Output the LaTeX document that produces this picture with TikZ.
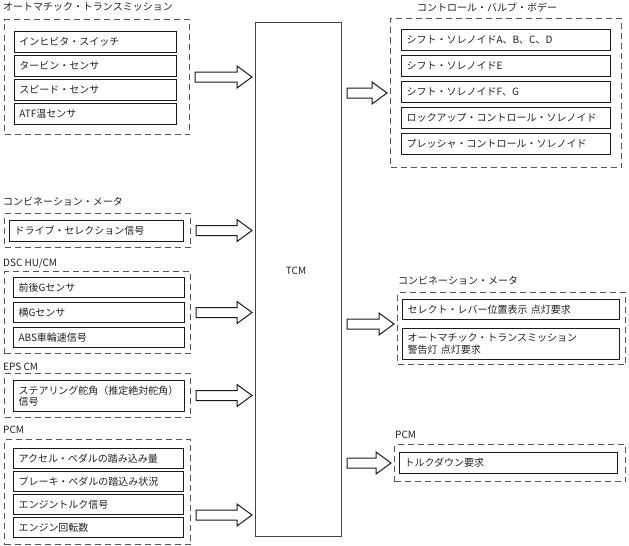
\documentclass[tikz,border=0pt]{standalone}
\usepackage{fontspec}
\setmainfont{Noto Sans CJK JP}
\usepackage{xcolor}
\usepackage{tikz}
\usetikzlibrary{calc}
\definecolor{bg}{HTML}{FFFFFF}
\definecolor{text}{HTML}{222222}
\definecolor{edge}{HTML}{1A1A1A}
\definecolor{dashc}{HTML}{555555}
\definecolor{tcmc}{HTML}{444444}
\newcommand{\fs}{\fontsize{10pt}{11.5pt}\selectfont}
\tikzset{
  grp/.style={draw=dashc, line width=1pt, dash pattern=on 6pt off 4pt, anchor=north west, inner sep=0pt},
  item/.style={draw=edge, line width=1pt, anchor=north west, inner xsep=5pt, inner ysep=0pt,
    align=left, text=text, font=\fs, text width=#1, minimum height=21pt},
  ttl/.style={anchor=west, inner sep=0pt, text=text, font=\fs},
  ctrl/.style={draw=tcmc, line width=1.2pt, anchor=north west, inner sep=0pt},
  fat/.style={draw=edge, fill=bg, line width=1pt, line join=miter}
}
% hollow block arrow: #1 source side, #2 target side (same height)
\newcommand{\fatarrow}[2]{%
  \path (#1) ++(5,0) coordinate (fa-s) (#2) ++(-3,0) coordinate (fa-e);
  \draw[fat] ($(fa-s)+(0,-5)$) -- ($(fa-e)+(-15,-5)$) -- ($(fa-e)+(-15,-11)$) -- (fa-e)
    -- ($(fa-e)+(-15,11)$) -- ($(fa-e)+(-15,5)$) -- ($(fa-s)+(0,5)$) -- cycle;}

\begin{document}
\begin{tikzpicture}[x=1pt, y=-1pt]
  \useasboundingbox (0,0) rectangle (629,546);
  \fill[bg] (0,0) rectangle (629,546);

  % TCM
  \node[ctrl, minimum width=86pt, minimum height=514pt] (tcm) at (255,22) {};
  \node[ttl, anchor=center] (tcmlab) at (296,271) {TCM};

  % inputs
  \node[ttl] (tAT) at (3,7) {オートマチック・トランスミッション};
  \node[grp, minimum width=185pt, minimum height=115pt] (gAT) at (4,19) {};
  \node[item=152pt] (at1) at (14,31) {インヒビタ・スイッチ};
  \node[item=152pt] (at2) at (14,55) {タービン・センサ};
  \node[item=152pt] (at3) at (14,79) {スピード・センサ};
  \node[item=152pt] (at4) at (14,103) {ATF温センサ};

  \node[ttl] (tCL) at (3,202) {コンビネーション・メータ};
  \node[grp, minimum width=186pt, minimum height=34pt] (gCL) at (4,213) {};
  \node[item=164pt] (cl1) at (9,220) {ドライブ・セレクション信号};

  \node[ttl] (tDSC) at (3,263) {DSC HU/CM};
  \node[grp, minimum width=186pt, minimum height=82pt] (gDSC) at (4,271) {};
  \node[item=161pt, minimum height=20pt] (dsc1) at (13,277) {前後Gセンサ};
  \node[item=161pt, minimum height=20pt] (dsc2) at (13,302) {横Gセンサ};
  \node[item=161pt, minimum height=20pt] (dsc3) at (13,327) {ABS車輪速信号};

  \node[ttl] (tEPS) at (3,367) {EPS CM};
  \node[grp, minimum width=186pt, minimum height=44pt] (gEPS) at (4,373) {};
  \node[item=161pt, minimum height=31pt] (eps1) at (13,380) {ステアリング舵角（推定絶対舵角）\\信号};

  \node[ttl] (tPCM) at (3,430) {PCM};
  \node[grp, minimum width=186pt, minimum height=105pt] (gPCM) at (4,439) {};
  \node[item=160pt, minimum height=20pt] (pcm1) at (13,448) {アクセル・ペダルの踏み込み量};
  \node[item=160pt, minimum height=20pt] (pcm2) at (13,471) {ブレーキ・ペダルの踏込み状況};
  \node[item=160pt, minimum height=20pt] (pcm3) at (13,494) {エンジントルク信号};
  \node[item=160pt, minimum height=20pt] (pcm4) at (13,517) {エンジン回転数};

  % outputs
  \node[ttl] (tCVB) at (417,7) {コントロール・バルブ・ボデー};
  \node[grp, minimum width=231pt, minimum height=149pt] (gCVB) at (390,18) {};
  \node[item=199pt] (cvb1) at (401,29) {シフト・ソレノイドA、B、C、D};
  \node[item=199pt] (cvb2) at (401,55) {シフト・ソレノイドE};
  \node[item=199pt] (cvb3) at (401,81) {シフト・ソレノイドF、G};
  \node[item=199pt] (cvb4) at (401,107) {ロックアップ・コントロール・ソレノイド};
  \node[item=199pt] (cvb5) at (401,133) {プレッシャ・コントロール・ソレノイド};

  \node[ttl] (tRC) at (398,281) {コンビネーション・メータ};
  \node[grp, minimum width=228pt, minimum height=72pt] (gRC) at (397,292) {};
  \node[item=207pt, minimum height=20pt] (rc1) at (402,299) {セレクト・レバー位置表示 点灯要求};
  \node[item=207pt, minimum height=31pt] (rc2) at (402,328) {オートマチック・トランスミッション\\警告灯 点灯要求};
  \coordinate (rcm) at ($(rc1.south)!0.5!(rc2.north)$);

  \node[ttl] (tRP) at (395,435) {PCM};
  \node[grp, minimum width=231pt, minimum height=37pt] (gRP) at (394,444) {};
  \node[item=208pt] (rp1) at (399,452) {トルクダウン要求};

  % block arrows
  \fatarrow{gAT.east}{tcm.west |- gAT.east}
  \fatarrow{gCL.east}{tcm.west |- gCL.east}
  \fatarrow{gDSC.east}{tcm.west |- gDSC.east}
  \fatarrow{gEPS.east}{tcm.west |- gEPS.east}
  \fatarrow{gPCM.east |- pcm3.south}{tcm.west |- pcm3.south}
  \fatarrow{tcm.east |- gCVB.west}{gCVB.west}
  \fatarrow{tcm.east |- rcm}{gRC.west |- rcm}
  \fatarrow{tcm.east |- gRP.west}{gRP.west}
\end{tikzpicture}
\end{document}
